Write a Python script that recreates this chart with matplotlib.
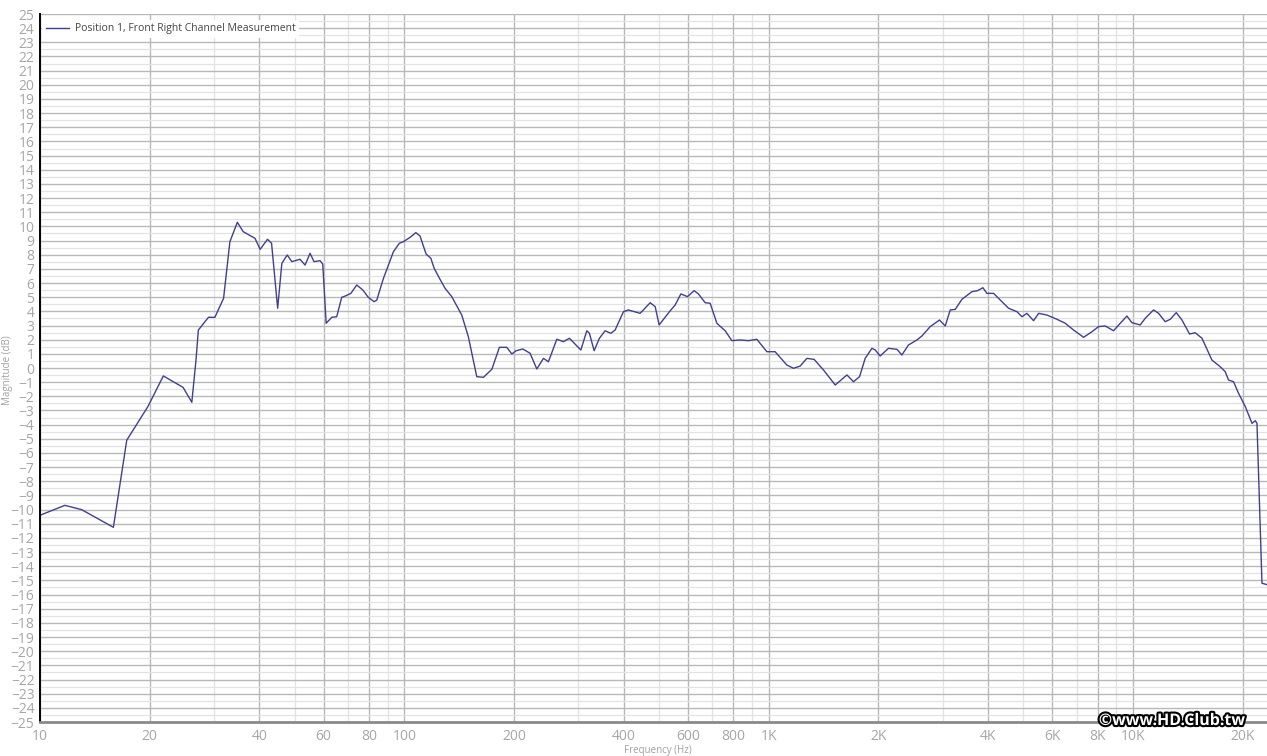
import matplotlib
matplotlib.use("Agg")
import matplotlib.pyplot as plt
import matplotlib.patheffects as pe
from matplotlib.ticker import FixedLocator, NullFormatter

freq_hz = [
    10, 11.7, 13.0, 15.9, 17.3, 19.8, 21.8, 24.7, 26.1, 26.8,
    27.2, 29.0, 30.2, 31.9, 33.2, 34.8, 36.1, 38.9, 40.2, 42.1,
    43.2, 44.9, 46.1, 47.7, 49.1, 51.7, 53.4, 55.1, 56.5, 58.7,
    59.7, 61.0, 63.2, 65.2, 67.3, 69.2, 71.3, 74.0, 76.9, 79.6,
    82.6, 84.0, 87.6, 93.3, 96.9, 99.4, 103.7, 107.5, 110.4, 114.7,
    118.2, 120.7, 125.3, 129.3, 134.9, 143.7, 149.8, 158.0, 164.8, 173.8,
    182.3, 191.0, 197.2, 202.6, 211.3, 221.3, 230.9, 240.8, 248.5, 262.0,
    273.2, 283.8, 305.0, 316.7, 322.0, 331.7, 343.0, 355.5, 368.6, 378.7,
    399.2, 412.0, 443.6, 472.7, 487.9, 500.2, 533.9, 553.5, 573.8, 598.4,
    624.3, 641.2, 669.1, 690.6, 720.4, 759.2, 792.0, 834.8, 879.8, 927.3,
    988.1, 1041, 1121, 1169, 1220, 1272, 1332, 1413, 1522, 1639,
    1708, 1775, 1839, 1919, 1960, 2022, 2131, 2247, 2319, 2417,
    2550, 2632, 2773, 2942, 3050, 3148, 3250, 3389, 3610, 3741,
    3870, 3969, 4140, 4364, 4550, 4797, 4952, 5110, 5331, 5502,
    5800, 6179, 6511, 6864, 7311, 7707, 8035, 8381, 8835, 9218,
    9614, 9922, 10458, 10793, 11376, 11745, 12246, 12643, 13130, 13612,
    14282, 14806, 15448, 16452, 17340, 17893, 18273, 18860, 19470, 20318,
    21190, 21640, 21870, 22570, 23300,
]
mag_db = [
    -10.4, -9.7, -10.0, -11.25, -5.1, -2.7, -0.56, -1.37, -2.42, 0.56,
    2.68, 3.58, 3.58, 4.92, 8.92, 10.29, 9.63, 9.16, 8.38, 9.09,
    8.81, 4.22, 7.39, 7.98, 7.51, 7.68, 7.27, 8.10, 7.51, 7.58,
    7.34, 3.16, 3.58, 3.62, 4.99, 5.11, 5.27, 5.86, 5.51, 4.99,
    4.68, 4.80, 6.33, 8.21, 8.81, 8.92, 9.23, 9.56, 9.32, 8.05,
    7.75, 7.04, 6.26, 5.63, 5.04, 3.74, 2.21, -0.61, -0.66, -0.09,
    1.46, 1.46, 0.99, 1.22, 1.34, 1.04, -0.07, 0.68, 0.44, 2.03,
    1.86, 2.10, 1.27, 2.63, 2.45, 1.22, 2.10, 2.63, 2.45, 2.68,
    3.98, 4.10, 3.86, 4.61, 4.33, 3.04, 3.98, 4.45, 5.23, 5.04,
    5.46, 5.23, 4.61, 4.57, 3.16, 2.63, 1.93, 1.98, 1.93, 2.03,
    1.15, 1.15, 0.21, -0.02, 0.14, 0.68, 0.61, -0.14, -1.20, -0.49,
    -0.97, -0.61, 0.68, 1.39, 1.27, 0.85, 1.39, 1.32, 0.92, 1.62,
    1.98, 2.26, 2.92, 3.39, 2.97, 4.10, 4.14, 4.85, 5.39, 5.46,
    5.67, 5.27, 5.27, 4.68, 4.22, 3.98, 3.62, 3.86, 3.34, 3.86,
    3.74, 3.44, 3.16, 2.68, 2.17, 2.56, 2.92, 2.97, 2.63, 3.16,
    3.67, 3.20, 3.04, 3.51, 4.10, 3.86, 3.27, 3.44, 3.91, 3.39,
    2.40, 2.49, 2.10, 0.56, 0.09, -0.26, -0.85, -0.97, -1.79, -2.73,
    -3.91, -3.72, -3.91, -15.2, -15.3,
]

x_ticks = [10, 20, 40, 60, 80, 100, 200, 400, 600, 800,
           1000, 2000, 4000, 6000, 8000, 10000, 20000]
x_tick_labels = ["10", "20", "40", "60", "80", "100", "200", "400", "600", "800",
                 "1K", "2K", "4K", "6K", "8K", "10K", "20K"]
x_minor = [30, 50, 70, 90, 300, 500, 700, 900,
           3000, 5000, 7000, 9000]
y_ticks = list(range(-25, 26))

plt.rcParams['font.family'] = ['Open Sans', 'DejaVu Sans']

fig = plt.figure(figsize=(12.67, 7.56), dpi=100)
ax = fig.add_axes([40 / 1267, 1 - 722 / 756, 1 - 40 / 1267, (722 - 14) / 756])

ax.set_xscale('log')
ax.set_xlim(10, 23300)
ax.set_ylim(-25, 25)

ax.xaxis.set_major_locator(FixedLocator(x_ticks))
ax.xaxis.set_minor_locator(FixedLocator(x_minor))
ax.xaxis.set_minor_formatter(NullFormatter())
ax.set_xticklabels(x_tick_labels)
ax.set_yticks(y_ticks)
ax.set_yticks([v + 0.5 for v in y_ticks[:-1]], minor=True)

ax.grid(which='major', axis='both', color='#b8b8b8', linewidth=1.0)
ax.grid(which='minor', axis='both', color='#e2e2e2', linewidth=0.9)
ax.set_axisbelow(True)

ax.tick_params(which='both', length=0)
ax.tick_params(axis='y', pad=4, labelsize=10, labelcolor='#a6a6a6')
ax.tick_params(axis='x', pad=5, labelsize=10, labelcolor='#a6a6a6')

for side in ('top', 'right'):
    ax.spines[side].set_visible(False)
ax.spines['left'].set_color('black')
ax.spines['left'].set_linewidth(1.4)
ax.spines['bottom'].set_color('#8a8a8a')
ax.spines['bottom'].set_linewidth(2.0)

ax.plot(freq_hz, mag_db, color='#40408f', linewidth=1.0,
        label='Position 1, Front Right Channel Measurement')

leg = ax.legend(loc='upper left', bbox_to_anchor=(0.0, 0.995), fontsize=7.5,
                frameon=True, fancybox=False, borderpad=0.35, handlelength=2.2,
                handletextpad=0.6, borderaxespad=0.2)
leg.get_frame().set_facecolor('white')
leg.get_frame().set_edgecolor('none')
leg.get_frame().set_alpha(1.0)
for t in leg.get_texts():
    t.set_color('#444444')

fig.text(658 / 1267, 1 - 750 / 756, 'Frequency (Hz)', ha='center', va='center',
         fontsize=7, color='#a0a0a0')
fig.text(8 / 1267, 1 - 370 / 756, 'Magnitude (dB)', ha='center', va='center',
         rotation=90, fontsize=7, color='#a0a0a0')

fig.text(1172 / 1267, 1 - 721 / 756, '\u00a9www.HD.Club.tw', ha='center', va='center',
         fontsize=11.5, fontweight='bold', color='white',
         path_effects=[pe.withStroke(linewidth=3, foreground='black')])

fig.savefig('out.png', dpi=100)
